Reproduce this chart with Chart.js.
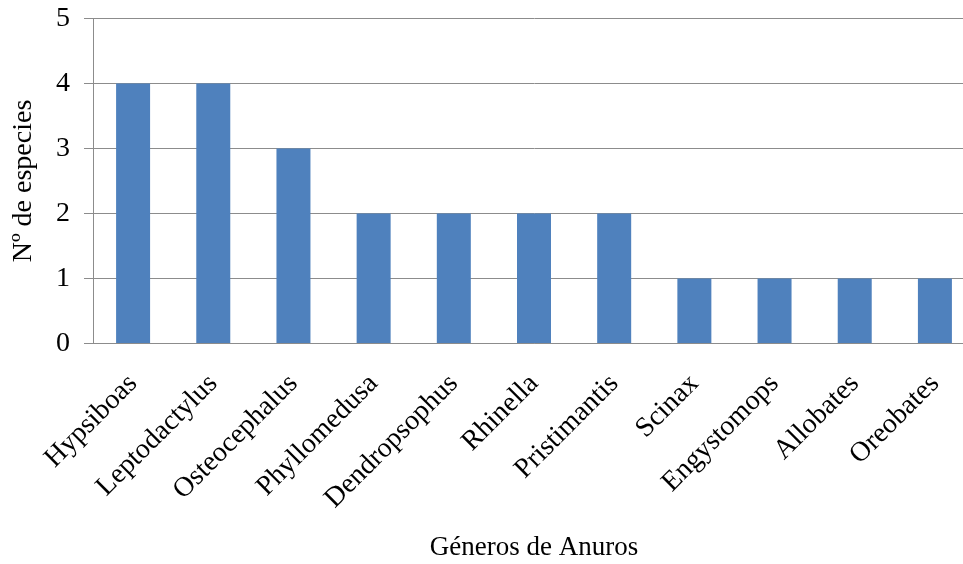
<!DOCTYPE html>
<html>
<head>
<meta charset="utf-8">
<script src="https://cdn.jsdelivr.net/npm/chart.js@4/dist/chart.umd.min.js"></script>
<style>
  html, body { margin: 0; padding: 0; background: #fff; overflow: hidden; }
  #wrap { width: 963px; height: 564px; overflow: hidden; }
  canvas { display: block; }
</style>
</head>
<body>
<div id="wrap"><canvas id="c" width="990" height="564" style="width:990px;height:564px"></canvas></div>
<script>
// Number of species per anuran genus
const generos = ['Hypsiboas', 'Leptodactylus', 'Osteocephalus', 'Phyllomedusa', 'Dendropsophus',
  'Rhinella', 'Pristimantis', 'Scinax', 'Engystomops', 'Allobates', 'Oreobates'];
const especies = [4, 4, 3, 2, 2, 2, 2, 1, 1, 1, 1];
const yTicks = [0, 1, 2, 3, 4, 5];

const serif = "'Liberation Serif', 'Times New Roman', serif";
const gridGray = '#8c8c8c';

new Chart(document.getElementById('c'), {
  type: 'bar',
  data: {
    labels: generos,
    datasets: [{
      data: especies,
      backgroundColor: '#4f81bd',
      borderWidth: 0,
      barPercentage: 0.424,
      categoryPercentage: 1.0
    }]
  },
  options: {
    responsive: false,
    animation: false,
    layout: { padding: { top: 18.5, right: 15, bottom: 0, left: 0 } },
    plugins: { legend: { display: false }, tooltip: { enabled: false } },
    scales: {
      x: {
        grid: { display: false, drawTicks: false },
        border: { display: true, color: gridGray, width: 1 },
        ticks: {
          color: '#000',
          font: { family: serif, size: 28 },
          minRotation: 45,
          maxRotation: 45,
          padding: 24,
          autoSkip: false
        },
        title: {
          display: true,
          text: 'Géneros de Anuros',
          color: '#000',
          font: { family: serif, size: 27 },
          padding: { top: 0, bottom: 0 }
        },
        // fixed band below the plot for the slanted genus names and the title
        afterFit: (s) => { s.height = 220.5; s.paddingLeft = 0; s.paddingRight = 0; }
      },
      y: {
        min: 0,
        max: 5,
        afterBuildTicks: (axis) => { axis.ticks = yTicks.map(v => ({ value: v })); },
        grid: { color: gridGray, lineWidth: 1, tickLength: 9, drawTicks: true },
        border: { display: true, color: gridGray, width: 1 },
        ticks: {
          color: '#000',
          font: { family: serif, size: 28 },
          padding: 14
        },
        title: {
          display: true,
          text: 'Nº de especies',
          color: '#000',
          font: { family: serif, size: 28 },
          padding: { top: 7, bottom: 0 }
        },
        afterFit: (s) => { s.width = 93; s.paddingTop = 0; s.paddingBottom = 0; }
      }
    }
  }
});
</script>
</body>
</html>
